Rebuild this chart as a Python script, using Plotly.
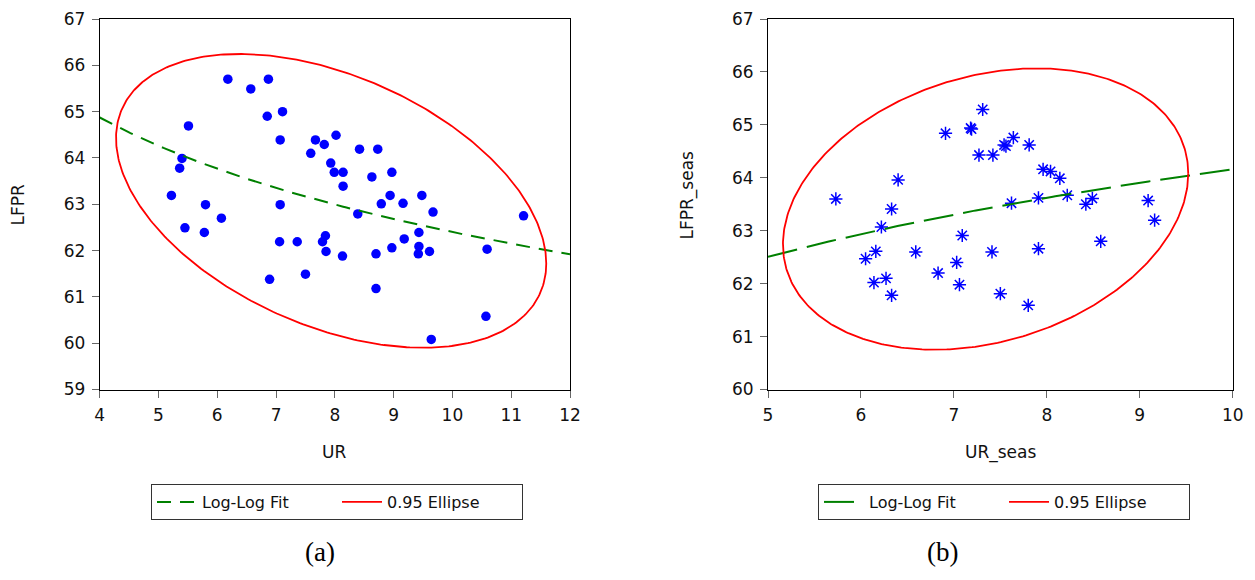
import numpy as np
import plotly.graph_objects as go

# ---- Panel (a): UR vs LFPR ----
ur = [6.18, 6.57, 6.87, 6.85, 7.11, 5.51, 7.07, 7.67, 7.82, 8.02, 7.59, 7.93, 7.99, 8.14,
      8.14, 5.40, 5.36, 5.22, 5.80, 7.07, 6.07, 5.45, 5.78, 7.06, 7.36, 7.79, 7.84, 7.85,
      8.13, 6.89, 7.50, 8.94, 9.48, 8.79, 9.16, 8.39, 9.67, 11.21, 9.43, 9.18, 8.97, 9.43,
      9.42, 9.61, 8.70, 10.59, 8.70, 10.57, 9.64, 8.42, 8.73, 8.63, 8.97]
lfpr = [65.70, 65.49, 65.70, 64.90, 65.00, 64.69, 64.39, 64.39, 64.29, 64.49, 64.10, 63.89,
        63.69, 63.69, 63.39, 63.99, 63.78, 63.19, 62.99, 62.99, 62.70, 62.49, 62.39, 62.19,
        62.19, 62.19, 62.32, 61.98, 61.88, 61.38, 61.49, 63.19, 63.19, 63.01, 63.02, 62.79,
        62.83, 62.75, 62.39, 62.25, 62.06, 62.09, 61.93, 61.98, 61.93, 62.03, 61.18, 60.58,
        60.08, 64.19, 64.19, 63.59, 63.69]

# ---- Panel (b): UR_seas vs LFPR_seas ----
ur_seas = [7.31, 7.18, 7.19, 6.91, 7.54, 7.56, 7.64, 7.81, 7.42, 7.27, 6.40, 5.73, 6.33,
           6.22, 7.09, 6.16, 6.05, 6.59, 7.41, 7.03, 6.83, 6.14, 6.27, 7.06, 6.33, 7.50,
           7.96, 8.04, 8.14, 7.62, 7.91, 8.22, 8.49, 8.42, 9.09, 9.16, 8.58, 7.91, 7.80]
lfpr_seas = [65.29, 64.94, 64.92, 64.84, 64.62, 64.60, 64.76, 64.62, 64.43, 64.43, 63.96,
             63.60, 63.41, 63.07, 62.91, 62.61, 62.47, 62.60, 62.60, 62.40, 62.20, 62.02,
             62.10, 61.98, 61.78, 61.81, 64.16, 64.12, 63.99, 63.52, 63.62, 63.67, 63.61,
             63.50, 63.57, 63.20, 62.80, 62.66, 61.59]

x_ticks_a = [4, 5, 6, 7, 8, 9, 10, 11, 12]
y_ticks_a = [59, 60, 61, 62, 63, 64, 65, 66, 67]
x_ticks_b = [5, 6, 7, 8, 9, 10]
y_ticks_b = [60, 61, 62, 63, 64, 65, 66, 67]
conf_level = 0.95

BLUE = "#0000FF"
RED = "#FF0000"
GREEN = "#008000"
FONT = "DejaVu Sans, Liberation Sans, Arial"
SERIF = "Liberation Serif, Times New Roman, serif"


def loglog_fit(x, y, xmin, xmax):
    b, a = np.polyfit(np.log(x), np.log(y), 1)
    xs = np.linspace(xmin, xmax, 200)
    return xs, np.exp(a + b * np.log(xs))


def conf_ellipse(x, y, level):
    x = np.asarray(x); y = np.asarray(y)
    n = len(x)
    mean = np.array([x.mean(), y.mean()])
    cov = np.cov(np.vstack([x, y]))
    m = n - 2
    f = (m / 2.0) * ((1.0 - level) ** (-2.0 / m) - 1.0)  # F(2, n-2) quantile
    c = 2.0 * f
    L = np.linalg.cholesky(cov)
    t = np.linspace(0, 2 * np.pi, 400)
    circ = np.vstack([np.cos(t), np.sin(t)])
    pts = mean[:, None] + np.sqrt(c) * (L @ circ)
    return pts[0], pts[1]


fig = go.Figure()

# panel a
fx, fy = loglog_fit(ur, lfpr, x_ticks_a[0], x_ticks_a[-1])
ex, ey = conf_ellipse(ur, lfpr, conf_level)
fig.add_trace(go.Scatter(x=ur, y=lfpr, mode="markers", showlegend=False,
                         marker=dict(color=BLUE, size=9.5, symbol="circle"),
                         xaxis="x", yaxis="y"))
fig.add_trace(go.Scatter(x=fx, y=fy, mode="lines", name="Log-Log Fit",
                         line=dict(color=GREEN, width=2, dash="14px,9px"),
                         xaxis="x", yaxis="y", legend="legend"))
fig.add_trace(go.Scatter(x=ex, y=ey, mode="lines", name="0.95 Ellipse",
                         line=dict(color=RED, width=1.8),
                         xaxis="x", yaxis="y", legend="legend"))

# panel b
gx, gy = loglog_fit(ur_seas, lfpr_seas, x_ticks_b[0], x_ticks_b[-1])
hx, hy = conf_ellipse(ur_seas, lfpr_seas, conf_level)
fig.add_trace(go.Scatter(x=ur_seas, y=lfpr_seas, mode="markers", showlegend=False,
                         marker=dict(color=BLUE, size=11, symbol="asterisk-open",
                                     line=dict(color=BLUE, width=1.5)),
                         xaxis="x2", yaxis="y2"))
fig.add_trace(go.Scatter(x=gx, y=gy, mode="lines", name="Log-Log Fit",
                         line=dict(color=GREEN, width=2, dash="30px,10px"),
                         xaxis="x2", yaxis="y2", legend="legend2"))
fig.add_trace(go.Scatter(x=hx, y=hy, mode="lines", name="0.95 Ellipse",
                         line=dict(color=RED, width=1.8),
                         xaxis="x2", yaxis="y2", legend="legend2"))

# page body has an 8px margin; figure sized to fit the 1255x580 window exactly
OFF = 8
W, H = 1255 - 2 * OFF, 580 - 2 * OFF


def px(x):
    return (x - OFF) / W


def py(y):
    return 1 - (y - OFF) / H


ydom = [py(389.5), py(19)]

axis_common = dict(showgrid=False, zeroline=False, showline=True, linecolor="black",
                   linewidth=1, mirror=True, ticks="outside", ticklen=7, tickcolor="#666",
                   automargin=False,
                   tickfont=dict(family=FONT, size=17, color="#111"), ticklabelstandoff=3)

legend_common = dict(orientation="h", xanchor="left", yanchor="top",
                     bordercolor="#333", borderwidth=1, bgcolor="white",
                     font=dict(family=FONT, size=16, color="#111"),
                     entrywidth=130, itemwidth=40)

title_font = dict(family=FONT, size=17, color="#111")
cap_font = dict(family=SERIF, size=27, color="black")


def label(text, x, y, font, angle=0):
    return dict(text=text, x=px(x), y=py(y), xref="paper", yref="paper",
                xanchor="center", yanchor="middle", showarrow=False,
                textangle=angle, font=font)


fig.update_layout(
    width=W, height=H,
    margin=dict(l=0, r=0, t=0, b=0, autoexpand=False),
    paper_bgcolor="white", plot_bgcolor="white",
    xaxis=dict(domain=[px(99.7), px(570)], range=[x_ticks_a[0], x_ticks_a[-1]],
               tickvals=x_ticks_a, anchor="y", **axis_common),
    yaxis=dict(domain=ydom, range=[y_ticks_a[0], y_ticks_a[-1]],
               tickvals=y_ticks_a, anchor="x", **axis_common),
    xaxis2=dict(domain=[px(768), px(1232.7)], range=[x_ticks_b[0], x_ticks_b[-1]],
                tickvals=x_ticks_b, anchor="y2", **axis_common),
    yaxis2=dict(domain=ydom, range=[y_ticks_b[0], y_ticks_b[-1]],
                tickvals=y_ticks_b, anchor="x2", **axis_common),
    legend=dict(x=px(151), y=py(484), **legend_common),
    legend2=dict(x=px(818), y=py(484), **legend_common),
    annotations=[
        label("UR", 334, 452, title_font),
        label("UR_seas", 1000, 452, title_font),
        label("LFPR", 17.5, 205, title_font, -90),
        label("LFPR_seas", 687.5, 195, title_font, -90),
        label("(a)", 320, 552, cap_font),
        label("(b)", 942, 552, cap_font),
    ],
)

fig.write_html("out.html")
